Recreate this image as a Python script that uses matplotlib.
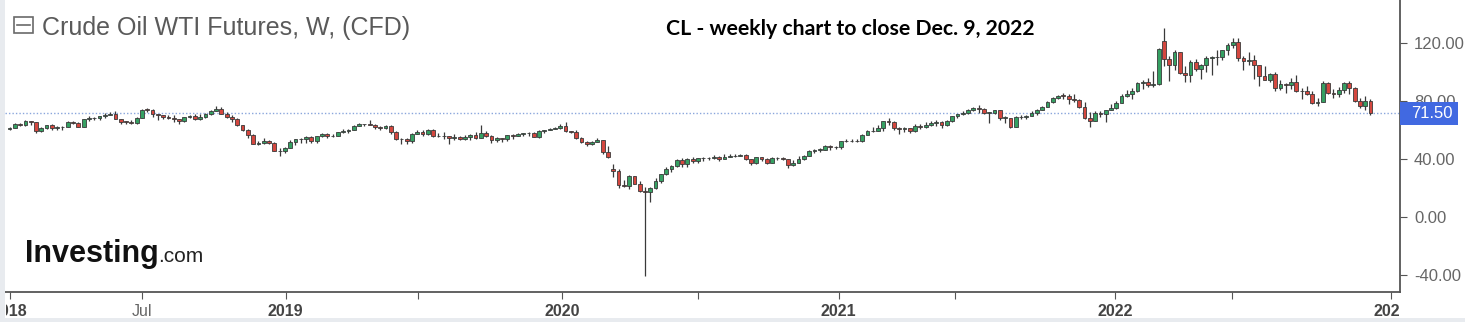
import matplotlib
matplotlib.use('Agg')
import matplotlib.pyplot as plt
import pandas as pd
from matplotlib.patches import Rectangle
from matplotlib.lines import Line2D
from matplotlib.transforms import Bbox, TransformedBbox

plt.rcParams['font.family'] = ['Liberation Sans', 'DejaVu Sans']

# weekly candles (week starting Monday), Jan 2018 .. Dec 2022
first_open = 60.42
close_2018 = [61.44, 64.30, 63.37, 66.14, 65.45, 59.20, 61.68, 63.55, 61.25, 62.04,
              62.34, 65.88, 64.94, 62.06, 67.39, 68.38, 68.10, 69.72, 70.70, 71.28,
              67.88, 65.81, 65.74, 65.06, 68.58, 74.15, 73.80, 71.01, 70.46, 68.69,
              68.49, 67.63, 65.91, 68.72, 69.80, 67.75, 68.99, 70.78, 73.25, 74.34,
              71.34, 69.12, 67.59, 63.14, 60.19, 56.46, 50.42, 50.93, 52.61, 51.20,
              45.59, 45.33, 47.96]
high_2018 = [62.21, 64.77, 64.89, 66.66, 66.40, 65.70, 62.00, 63.73, 64.24, 63.10,
             62.65, 66.02, 66.35, 65.28, 67.75, 69.56, 69.04, 69.90, 71.89, 72.30,
             72.83, 67.95, 66.48, 67.05, 69.30, 74.46, 75.27, 74.71, 71.25, 70.60,
             70.35, 70.25, 67.73, 69.17, 70.53, 71.40, 71.21, 71.70, 73.53, 76.90,
             75.91, 72.31, 70.53, 67.98, 63.47, 60.87, 57.42, 52.39, 54.55, 53.27,
             52.01, 47.60, 48.47]
low_2018 = [60.10, 61.34, 63.08, 62.84, 63.60, 58.07, 58.77, 60.69, 60.07, 60.15,
            60.18, 61.80, 64.17, 61.84, 61.93, 65.93, 67.08, 67.07, 68.53, 70.18,
            67.50, 64.22, 64.32, 64.18, 64.28, 68.50, 72.16, 69.14, 67.03, 67.36,
            67.47, 65.71, 64.43, 65.28, 68.40, 67.05, 66.94, 68.05, 70.55, 73.07,
            70.90, 68.47, 65.74, 62.77, 59.26, 54.75, 50.15, 49.41, 50.08, 50.33,
            45.25, 42.36, 44.35]

close_2019 = [51.59, 53.80, 53.69, 55.26, 52.72, 55.59, 57.26, 55.80, 56.07, 58.52,
              59.04, 60.14, 63.08, 63.89, 64.00, 63.30, 61.94, 61.66, 62.76, 58.63,
              53.50, 54.00, 52.51, 57.43, 58.47, 57.51, 60.21, 55.63, 56.20, 55.66,
              54.50, 54.87, 54.17, 55.10, 56.52, 54.85, 58.09, 55.91, 52.81, 54.70,
              53.78, 56.66, 56.20, 57.24, 57.72, 57.77, 55.17, 59.20, 60.07, 60.44,
              61.72, 63.05]
high_2019 = [53.31, 54.10, 54.24, 55.75, 55.75, 55.80, 57.81, 57.88, 57.20, 58.95,
             60.39, 60.73, 63.32, 64.79, 64.47, 66.60, 64.36, 63.00, 63.43, 63.79,
             59.37, 54.83, 54.44, 58.17, 59.93, 59.82, 60.94, 60.74, 57.99, 58.82,
             56.10, 57.47, 56.21, 56.88, 57.00, 58.76, 63.38, 59.38, 56.81, 54.98,
             54.82, 56.92, 57.14, 57.85, 57.98, 58.70, 58.77, 59.85, 60.29, 61.30,
             62.34, 64.09]
low_2019 = [47.91, 49.94, 51.33, 51.33, 51.23, 51.41, 55.31, 54.52, 55.05, 55.68,
            58.04, 58.17, 60.15, 62.50, 62.76, 63.20, 60.94, 60.04, 60.62, 57.33,
            53.35, 50.60, 50.72, 51.35, 57.04, 56.08, 56.71, 55.02, 55.24, 53.59,
            50.52, 53.46, 53.48, 52.97, 52.81, 54.02, 57.54, 55.21, 50.99, 51.91,
            51.99, 52.56, 53.71, 55.86, 55.90, 55.78, 55.03, 54.28, 57.88, 59.70,
            60.62, 60.80]

close_2020 = [59.04, 58.54, 54.19, 51.56, 50.32, 52.05, 53.38, 44.76, 41.28, 31.73,
              22.43, 21.51, 28.34, 22.76, 18.27, 16.94, 19.78, 24.74, 29.43, 33.25,
              35.49, 39.55, 36.26, 39.75, 38.49, 40.65, 40.55, 40.59, 41.29, 40.27,
              41.22, 42.01, 42.34, 42.97, 39.77, 37.33, 41.11, 40.25, 37.05, 40.60,
              40.88, 39.85, 35.79, 37.14, 40.13, 42.15, 45.53, 46.26, 46.57, 49.10,
              48.23, 48.52]
high_2020 = [65.65, 59.31, 59.73, 54.89, 52.18, 52.31, 54.47, 53.35, 48.66, 36.50,
             33.33, 25.24, 29.13, 28.36, 24.70, 21.00, 20.48, 26.74, 29.63, 34.66,
             35.60, 39.73, 40.44, 40.52, 41.63, 40.86, 41.35, 41.52, 42.51, 42.00,
             43.52, 43.21, 43.43, 43.78, 43.66, 39.54, 41.64, 41.30, 40.80, 41.69,
             41.41, 41.68, 40.06, 39.24, 42.41, 42.78, 46.26, 46.68, 47.74, 49.42,
             49.65, 48.97]
low_2020 = [58.77, 57.68, 54.00, 50.99, 49.31, 49.57, 51.83, 43.32, 41.05, 27.34,
            20.06, 20.52, 19.27, 22.58, 17.31, -40.32, 10.07, 19.08, 23.63, 29.21,
            31.20, 34.36, 34.43, 34.66, 37.08, 37.45, 38.72, 39.42, 40.26, 38.72,
            39.81, 41.23, 41.51, 41.76, 39.00, 36.13, 36.81, 38.62, 36.63, 37.19,
            39.42, 39.00, 33.64, 34.92, 37.20, 39.65, 42.16, 43.92, 45.15, 46.15,
            46.45, 47.05]

close_2021 = [52.24, 52.36, 52.27, 52.20, 56.85, 59.47, 59.24, 61.50, 66.09, 65.61,
              61.42, 60.97, 61.45, 59.32, 63.13, 62.14, 63.58, 64.90, 65.37, 63.58,
              66.32, 69.62, 70.91, 71.64, 74.05, 75.16, 74.56, 71.81, 72.07, 73.95,
              68.28, 68.44, 62.32, 68.74, 69.29, 69.72, 71.97, 73.98, 75.88, 79.35,
              82.28, 83.76, 83.57, 81.27, 80.79, 75.94, 68.15, 66.26, 71.67, 70.86,
              73.79, 75.21]
high_2021 = [52.75, 53.93, 53.60, 53.50, 57.00, 59.82, 62.26, 63.81, 66.40, 67.98,
             66.40, 62.09, 62.25, 61.50, 64.02, 64.40, 65.47, 66.54, 66.66, 66.48,
             67.03, 69.76, 71.02, 72.99, 74.25, 76.22, 76.98, 75.52, 72.40, 74.05,
             73.63, 69.63, 68.28, 69.46, 70.05, 70.46, 73.16, 74.25, 76.67, 79.78,
             82.60, 84.37, 85.41, 84.96, 84.97, 81.23, 79.22, 72.48, 73.34, 73.16,
             74.09, 77.86]
low_2021 = [47.18, 51.48, 51.44, 51.84, 51.83, 56.80, 58.58, 59.03, 59.48, 63.14,
            60.06, 57.25, 58.85, 57.63, 58.77, 60.61, 61.31, 63.06, 63.12, 61.56,
            62.69, 65.75, 68.08, 70.05, 71.06, 72.87, 71.70, 70.99, 65.01, 71.00,
            67.11, 65.15, 61.74, 62.36, 67.58, 67.40, 69.43, 70.56, 73.87, 75.61,
            78.76, 81.53, 81.13, 78.25, 79.50, 75.36, 67.40, 62.43, 66.60, 69.24,
            65.81, 73.65]

close_2022 = [78.90, 83.82, 85.14, 86.82, 92.31, 93.10, 91.07, 91.59, 115.68, 109.33,
              104.70, 113.90, 99.27, 98.26, 106.95, 102.07, 104.69, 109.77, 110.49, 110.28,
              115.07, 118.87, 120.67, 109.56, 107.62, 108.43, 104.79, 97.59, 94.70, 98.62,
              89.01, 92.09, 90.77, 93.06, 86.87, 86.79, 85.11, 78.74, 79.49, 92.64,
              85.61, 85.05, 87.90, 92.61, 88.96, 80.08, 76.28, 79.98, 71.50]
high_2022 = [80.24, 84.78, 87.91, 88.84, 93.17, 94.66, 95.82, 100.54, 116.57, 130.50,
             110.88, 115.40, 114.00, 104.13, 108.29, 109.20, 105.89, 111.37, 110.91, 115.47,
             115.35, 119.98, 123.68, 123.18, 111.41, 114.05, 111.45, 104.80, 104.25, 99.22,
             100.04, 94.67, 92.64, 95.88, 97.65, 88.99, 90.04, 86.94, 82.27, 93.64,
             93.40, 88.34, 89.39, 92.81, 93.74, 89.87, 82.45, 83.34, 81.20]
low_2022 = [74.27, 78.46, 83.05, 81.33, 86.55, 88.25, 89.55, 89.50, 91.32, 104.48,
            93.53, 101.14, 98.44, 93.25, 92.93, 100.78, 95.28, 99.77, 98.20, 104.86,
            108.40, 111.90, 116.42, 107.74, 101.53, 104.56, 95.10, 90.56, 94.26, 93.14,
            87.01, 87.29, 85.73, 88.29, 85.92, 81.20, 84.25, 78.04, 76.25, 79.33,
            85.02, 82.12, 82.87, 85.84, 84.71, 79.61, 75.08, 73.60, 70.12]

# weeks that opened with a gap (otherwise open = previous close)
gap_open = {"2020-03-09": 33.00, "2022-03-07": 121.50}

tick_dates = ["2018-01-01", "2018-06-25", "2019-01-01", "2019-06-25", "2020-01-01",
              "2020-06-29", "2021-01-01", "2021-06-04", "2022-01-01", "2022-06-05", "2023-01-01"]
tick_labels = ["2018", "Jul", "2019", "", "2020", "", "2021", "", "2022", "", "2023"]

close = close_2018 + close_2019 + close_2020 + close_2021 + close_2022
high = high_2018 + high_2019 + high_2020 + high_2021 + high_2022
low = low_2018 + low_2019 + low_2020 + low_2021 + low_2022
weeks = pd.date_range("2018-01-01", periods=len(close), freq="W-MON")
open_ = [first_open] + close[:-1]
for i, d in enumerate(weeks):
    key = d.strftime("%Y-%m-%d")
    if key in gap_open:
        open_[i] = gap_open[key]
high = [max(h, o, c) for h, o, c in zip(high, open_, close)]
low = [min(l, o, c) for l, o, c in zip(low, open_, close)]

W, H = 1465, 322
fig = plt.figure(figsize=(W / 100, H / 100), dpi=100)
ax = fig.add_axes([5 / W, 30 / H, 1395 / W, 292 / H])

up_col, dn_col, edge = "#35a062", "#d4473f", "#3a3a3a"
colors = [up_col if c >= o else dn_col for o, c in zip(open_, close)]
bottoms = [min(o, c) for o, c in zip(open_, close)]
heights = [max(abs(c - o), 0.4) for o, c in zip(open_, close)]
ax.vlines(weeks, low, high, color=edge, lw=0.9, zorder=2)
ax.bar(weeks, heights, bottom=bottoms, width=5, color=colors,
       edgecolor=edge, linewidth=0.6, zorder=3)

last = close[-1]
ax.axhline(last, color="#8aa6dc", lw=1.0, ls=(0, (1, 1.5)), zorder=1)

ax.set_xlim(pd.Timestamp("2017-12-26"), pd.Timestamp("2023-01-13"))
ax.set_ylim(-51.7, 149.7)

for s in ["top", "left"]:
    ax.spines[s].set_visible(False)
for s in ["right", "bottom"]:
    ax.spines[s].set_color("#555555")
    ax.spines[s].set_linewidth(1.3)

ax.yaxis.tick_right()
ax.set_yticks([-40, 0, 40, 80, 120])
ax.set_yticklabels([f"{v:.2f}" for v in [-40, 0, 40, 80, 120]])
ax.tick_params(axis="y", length=5, color="#555555", pad=5, labelsize=12, labelcolor="#666666")

ax.set_xticks(pd.to_datetime(tick_dates))
ax.set_xticklabels(tick_labels)
ax.tick_params(axis="x", length=5, color="#555555", pad=4, labelsize=11.5, labelcolor="#444444")
clip = TransformedBbox(Bbox([[6 / W, 0], [1400 / W, 1]]), fig.transFigure)
for lbl in ax.get_xticklabels():
    if lbl.get_text() == "Jul":
        lbl.set_color("#666666")
    else:
        lbl.set_fontweight("bold")
    lbl.set_clip_box(clip)
    lbl.set_clip_on(True)

# last price box on the right axis
ypix = ax.transData.transform((0, last))[1]
yf = ypix / fig.bbox.height
fig.add_artist(Rectangle((1400 / W, yf - 11.5 / H), 58 / W, 23 / H, transform=fig.transFigure,
                         facecolor="#4169e1", edgecolor="none", zorder=5))
fig.text(1411 / W, yf, f"{last:.2f}", color="white", fontsize=12, ha="left", va="center", zorder=6)

# header
fig.add_artist(Rectangle((14 / W, 1 - 33 / H), 19 / W, 16 / H, transform=fig.transFigure,
                         facecolor="none", edgecolor="#6a6a6a", lw=1.2))
fig.add_artist(Line2D([17 / W, 30 / W], [1 - 25 / H, 1 - 25 / H], transform=fig.transFigure,
                      color="#6a6a6a", lw=1.2))
fig.text(42 / W, 1 - 35 / H, "Crude Oil WTI Futures, W, (CFD)", fontsize=18,
         color="#5a5a5a", va="baseline")
fig.text(666 / W, 1 - 35 / H, "CL - weekly chart to close Dec. 9, 2022", fontsize=15.3,
         family=["Lato", "DejaVu Sans"], fontweight="bold", color="black", va="baseline")

# logo
fig.text(25 / W, 1 - 262 / H, "Investing", fontsize=22, fontweight="bold",
         color="#111111", va="baseline")
fig.text(158 / W, 1 - 262 / H, ".com", fontsize=15, color="#222222", va="baseline")

# light borders of the widget
fig.add_artist(Rectangle((0, 0), 5 / W, 1, transform=fig.transFigure,
                         facecolor="#e8ebef", edgecolor="none", zorder=10))
fig.add_artist(Rectangle((0, 0), 1, 4 / H, transform=fig.transFigure,
                         facecolor="#e8ebef", edgecolor="none", zorder=10))

fig.savefig("out.png", dpi=100)
